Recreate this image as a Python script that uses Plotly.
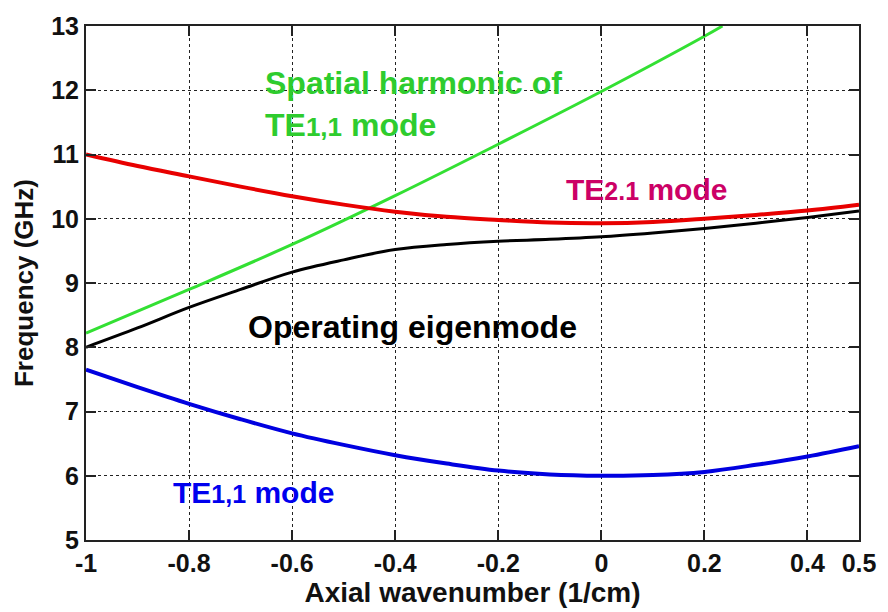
import plotly.graph_objects as go

k = [-1, -0.9, -0.8, -0.7, -0.6, -0.5, -0.4, -0.3, -0.2, -0.1, 0, 0.1, 0.2, 0.3, 0.4, 0.5]
te21 = [11.0, 10.82, 10.66, 10.5, 10.35, 10.22, 10.11, 10.03, 9.98, 9.94, 9.93, 9.95, 10.0, 10.06, 10.13, 10.22]
operating = [8.0, 8.3, 8.62, 8.9, 9.17, 9.36, 9.52, 9.6, 9.65, 9.68, 9.72, 9.78, 9.85, 9.93, 10.02, 10.12]
te11 = [7.65, 7.38, 7.12, 6.88, 6.66, 6.48, 6.32, 6.19, 6.08, 6.02, 6.0, 6.01, 6.06, 6.17, 6.3, 6.46]
k_harm = [-1, -0.8, -0.6, -0.4, -0.2, 0, 0.2, 0.235]
harmonic = [8.22, 8.9, 9.6, 10.36, 11.16, 11.98, 12.84, 13.0]

x_ticks = [-1, -0.8, -0.6, -0.4, -0.2, 0, 0.2, 0.4, 0.5]
x_ticklabels = ["-1", "-0.8", "-0.6", "-0.4", "-0.2", "0", "0.2", "0.4", "0.5"]
y_ticks = [5, 6, 7, 8, 9, 10, 11, 12, 13]

FONT = "Liberation Sans, Arial, sans-serif"

fig = go.Figure()
fig.add_trace(go.Scatter(x=k_harm, y=harmonic, mode="lines", line=dict(color="#33e033", width=3, shape="spline"), hoverinfo="skip"))
fig.add_trace(go.Scatter(x=k, y=te21, mode="lines", line=dict(color="#e80000", width=4, shape="spline"), hoverinfo="skip"))
fig.add_trace(go.Scatter(x=k, y=operating, mode="lines", line=dict(color="#000000", width=3, shape="spline"), hoverinfo="skip"))
fig.add_trace(go.Scatter(x=k, y=te11, mode="lines", line=dict(color="#0000e0", width=4, shape="spline"), hoverinfo="skip"))

axis_common = dict(
    showline=True, linecolor="#222", linewidth=2, mirror="ticks",
    ticks="inside", ticklen=10, tickwidth=2, tickcolor="#222",
    showgrid=True, gridcolor="#222", gridwidth=1.3, griddash="dot",
    zeroline=False,
    tickfont=dict(family=FONT, size=25, color="#111", weight="bold"),
)

fig.update_layout(
    width=888, height=612,
    margin=dict(l=86, r=23, t=18, b=72),
    paper_bgcolor="white", plot_bgcolor="white",
    showlegend=False,
    font=dict(family=FONT),
    xaxis=dict(range=[-1, 0.5], tickvals=x_ticks, ticktext=x_ticklabels,
               title=dict(text="<b>Axial wavenumber (1/cm)</b>", font=dict(family=FONT, size=28, color="#111"), standoff=2),
               **axis_common),
    yaxis=dict(range=[5, 13], tickvals=y_ticks,
               title=dict(text="<b>Frequency (GHz)</b>", font=dict(family=FONT, size=26, color="#111"), standoff=10),
               **axis_common),
)

def sub(t, s=25):
    return f"<span style='font-size:{s}px'>{t}</span>"

annos = [
    dict(x=-0.656, y=11.79, text="<b>Spatial harmonic of<br>TE" + sub("1,1", 26) + " mode</b>", color="#2ecc2e", size=32),
    dict(x=-0.073, y=10.45, text="<b>TE" + sub("2.1") + " mode</b>", color="#cc0066", size=30),
    dict(x=-0.689, y=8.32, text="<b>Operating eigenmode</b>", color="#000000", size=32),
    dict(x=-0.836, y=5.74, text="<b>TE" + sub("1,1") + " mode</b>", color="#0000ee", size=30),
]
for a in annos:
    fig.add_annotation(x=a["x"], y=a["y"], xref="x", yref="y", text=a["text"], showarrow=False,
                       xanchor="left", yanchor="middle", align="left",
                       font=dict(family=FONT, size=a["size"], color=a["color"]))

fig.write_html("out.html")
